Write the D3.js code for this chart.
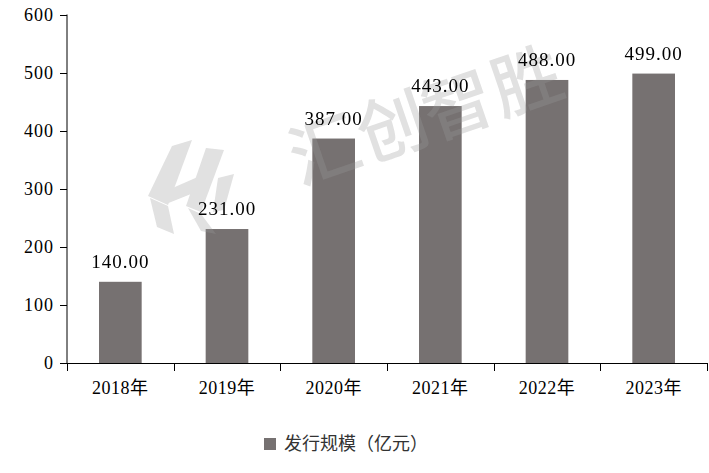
<!DOCTYPE html>
<html><head><meta charset="utf-8">
<script src="https://cdn.jsdelivr.net/npm/d3@7"></script>
<style>html,body{margin:0;padding:0;background:#fff;}svg{display:block;}</style>
</head><body>
<svg id="chart" width="709" height="473"></svg>
<script>
const categories = ["2018年","2019年","2020年","2021年","2022年","2023年"];
const values = [140, 231, 387, 443, 488, 499];
const yTicks = [0, 100, 200, 300, 400, 500, 600];
const seriesName = "发行规模（亿元）";
const watermarkChars = ["汇","创","智","胜"];

const svg = d3.select("#chart");
const plotLeft = 67, plotRight = 707, plotTop = 15, plotBottom = 363;
const barColor = "#767171";
const numFont = "'Liberation Serif','Noto Sans CJK SC',serif";

const x = d3.scaleBand().domain(categories).range([plotLeft, plotRight]).paddingInner(0.6).paddingOuter(0.3);
const y = d3.scaleLinear().domain([0, 600]).range([plotBottom, plotTop]);

// bars
svg.append("g").selectAll("rect").data(values).join("rect")
  .attr("x", (d,i) => x(categories[i]))
  .attr("width", x.bandwidth())
  .attr("y", d => y(d))
  .attr("height", d => y(0) - y(d))
  .attr("fill", barColor);

// watermark
const wm = svg.append("g").attr("opacity", 0.3).attr("pointer-events","none");
const wmPos = [[323,145],[391,122],[456,100],[525,76]];
wmPos.forEach((p,i) => {
  wm.append("text").attr("transform", `translate(${p[0]},${p[1]}) rotate(-19)`)
    .attr("text-anchor","middle").attr("dominant-baseline","central")
    .attr("font-family","'Noto Sans CJK SC'").attr("font-weight","500")
    .attr("font-size", 70).attr("fill", "#9a9a9a").text(watermarkChars[i]);
});
// logo approximation
const logo = wm.append("g").attr("fill","#9a9a9a");
logo.append("path").attr("d","M172,146 L192,140 L168,205 L148,196 Z");
logo.append("path").attr("d","M150,198 L168,206 L174,234 L157,227 Z");
logo.append("path").attr("d","M168,190 L200,176 L196,192 L166,204 Z");
logo.append("path").attr("d","M206,148 L224,150 L201,212 L186,206 Z");
logo.append("path").attr("d","M188,208 L201,214 L216,234 L201,231 Z");
logo.append("path").attr("d","M218,178 L234,174 L224,210 L213,212 Z");

// data labels
svg.append("g").selectAll("text").data(values).join("text")
  .attr("x", (d,i) => x(categories[i]) + x.bandwidth()/2)
  .attr("y", d => y(d) - 14)
  .attr("text-anchor","middle")
  .attr("font-family", numFont).attr("font-size", 19)
  .attr("letter-spacing", 1).attr("fill","#000")
  .text(d => d.toFixed(2));

// y axis
const yAxis = svg.append("g").attr("transform", `translate(${plotLeft},0)`)
  .call(d3.axisLeft(y).tickValues(yTicks).tickSize(7).tickSizeOuter(0).tickPadding(6));
yAxis.select(".domain").attr("stroke","#000").attr("d", `M0,${plotBottom}V${plotTop-0.5}`);
yAxis.selectAll(".tick line").attr("stroke","#000");
yAxis.selectAll(".tick text").attr("font-family", numFont).attr("font-size", 18)
  .attr("letter-spacing", 1).attr("fill","#000");

// x axis
const xg = svg.append("g");
xg.append("line").attr("x1", plotLeft).attr("x2", plotRight).attr("y1", plotBottom + 0.5).attr("y2", plotBottom + 0.5)
  .attr("stroke","#000");
const bounds = categories.map(c => x(c) - x.step()*x.paddingInner()/2 ).concat([plotRight]);
xg.selectAll("line.tk").data(bounds).join("line").attr("class","tk")
  .attr("x1", d => Math.round(d)+0.5).attr("x2", d => Math.round(d)+0.5)
  .attr("y1", plotBottom).attr("y2", plotBottom + 8).attr("stroke","#000");
xg.selectAll("text").data(categories).join("text")
  .attr("x", d => x(d) + x.bandwidth()/2).attr("y", 394)
  .attr("text-anchor","middle").attr("font-family", numFont).attr("font-size", 18)
  .attr("letter-spacing", 0.5).attr("fill","#000").text(d => d);

// legend
const lg = svg.append("g");
lg.append("rect").attr("x", 264).attr("y", 438).attr("width", 12).attr("height", 12).attr("fill", barColor);
lg.append("text").attr("x", 284).attr("y", 450).attr("font-family","'Noto Sans CJK SC'")
  .attr("font-size", 18).attr("fill","#333").text(seriesName);
</script>
</body></html>
